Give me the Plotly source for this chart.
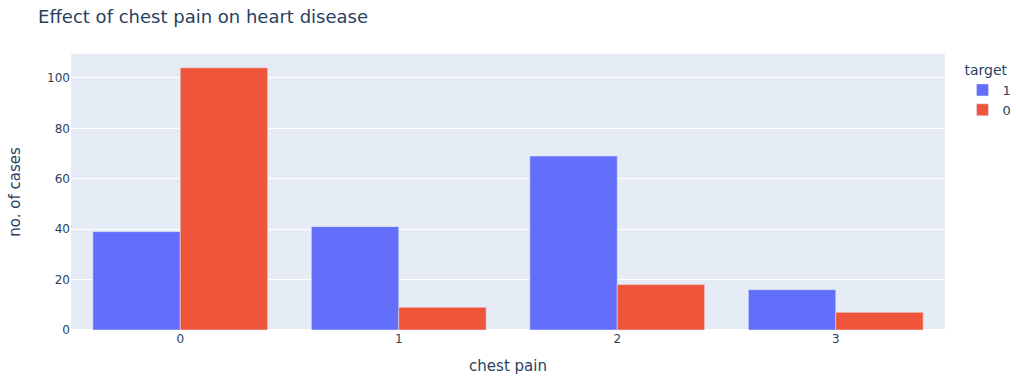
import plotly.graph_objects as go

chest_pain = [0, 1, 2, 3]
target_1 = [39, 41, 69, 16]
target_0 = [104, 9, 18, 7]

fig = go.Figure()
fig.add_trace(go.Bar(x=chest_pain, y=target_1, name="1", marker_color="#636efa",
                     marker_line=dict(color="#E5ECF6", width=0.5)))
fig.add_trace(go.Bar(x=chest_pain, y=target_0, name="0", marker_color="#EF553B",
                     marker_line=dict(color="#E5ECF6", width=0.5)))

fig.update_layout(
    template="plotly",
    width=1016, height=378,
    barmode="group",
    font=dict(family="Verdana, DejaVu Sans, sans-serif"),
    margin=dict(l=71, r=71, t=54, b=48, autoexpand=False),
    title=dict(text="Effect of chest pain on heart disease", x=0.0375, xanchor="left",
               y=0.955, yanchor="middle", font=dict(size=18)),
    legend=dict(title=dict(text="target", font=dict(size=14)), font=dict(size=13),
                tracegroupgap=0, y=0.99),
    xaxis=dict(title=dict(text="chest pain", font=dict(size=15)), tickvals=chest_pain),
    yaxis=dict(title=dict(text="no. of cases", font=dict(size=15), standoff=22)),
)

fig.write_html("out.html")
